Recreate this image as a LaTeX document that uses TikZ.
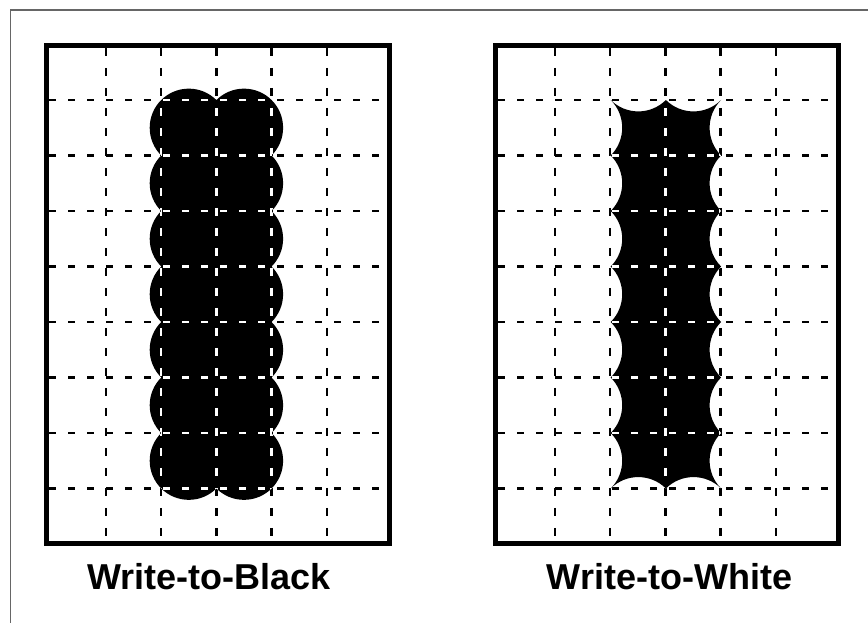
\documentclass[tikz,border=0pt]{standalone}
\usepackage{fontspec}
\setmainfont{Liberation Sans}
\usetikzlibrary{positioning,calc}

% dashed pixel grid of one panel: #1 = panel node, #2 = colour
\newcommand{\dashgrid}[2]{%
  \foreach \k in {0,...,4}
    \draw[gridline, dash pattern=on 7.7pt off 12.3pt, #2] ($(#1.north west)+(59.5+55.2*\k,-2.5)$) -- ($(#1.south west)+(59.5+55.2*\k,2.5)$);
  \foreach \j in {0,...,7}
    \draw[gridline, #2] ($(#1.north west)+(2.5,-54.5-55.5*\j)$) -- ($(#1.north east)+(-2.5,-54.5-55.5*\j)$);
}

\begin{document}
\begin{tikzpicture}[x=1pt, y=1pt, font=\fontsize{36}{40}\selectfont\bfseries]
\tikzstyle{panel}=[draw, line width=5pt, minimum width=343pt, minimum height=498pt, inner sep=0pt, outer sep=0pt]
\tikzstyle{gridline}=[line width=2.5pt, dash pattern=on 7pt off 12pt]
\useasboundingbox (0,0) rectangle (868,623);
% outer frame, cut off at right and bottom
\draw[black!60, line width=1.6pt] (10.3,0) |- (868,613);
\node[panel] (black) at (218,328.5) {};
\node[panel] (white) at (667,328.5) {};
\node[anchor=base] (tblack) at ($(black.south)+(-9,-46.5)$) {Write-to-Black};
\node[anchor=base] (twhite) at ($(white.south)+(2.5,-46.5)$) {Write-to-White};
\dashgrid{black}{black}
\dashgrid{white}{black}
% write-to-black: one dot circumscribing each cell
\begin{scope}
\clip foreach \j in {0,...,6} {(188.8,495.25-55.5*\j) circle[radius=39.1] (244,495.25-55.5*\j) circle[radius=39.1]};
\fill (black.south west) rectangle (black.north east);
\dashgrid{black}{white}
\end{scope}
% write-to-white: cells minus the dots of the white neighbours
\begin{scope}
\clip (610.7,523) to[bend right=45] (665.9,523) to[bend right=45] (721.1,523)
  foreach \j in {1,...,7} { to[bend right=45] (721.1,523-55.5*\j) }
  to[bend right=45] (665.9,134.5) to[bend right=45] (610.7,134.5)
  foreach \j in {6,...,0} { to[bend right=45] (610.7,523-55.5*\j) } -- cycle;
\fill (white.south west) rectangle (white.north east);
\dashgrid{white}{white}
\end{scope}
\end{tikzpicture}
\end{document}
